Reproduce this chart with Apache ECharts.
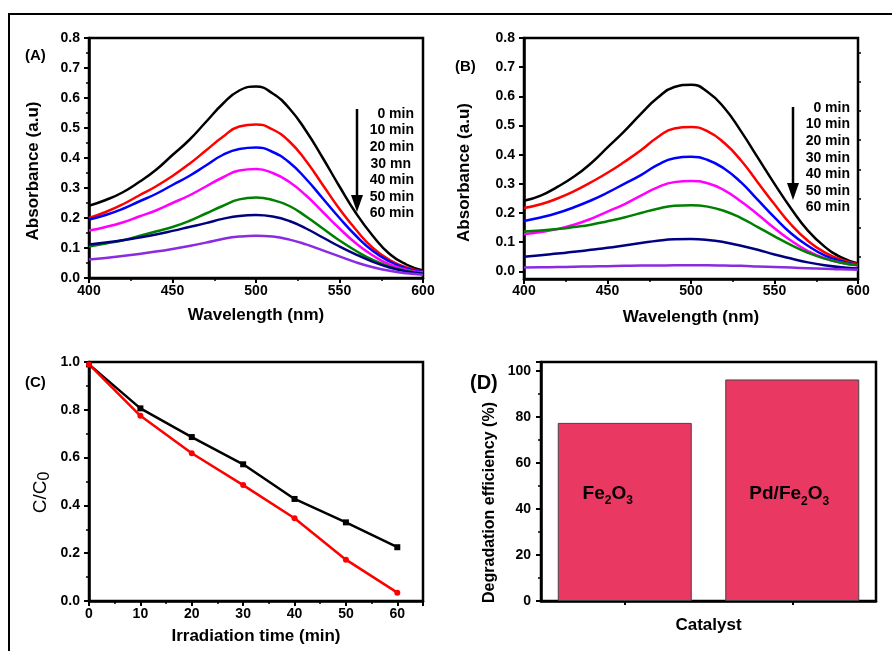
<!DOCTYPE html>
<html>
<head>
<meta charset="utf-8">
<script src="https://cdn.jsdelivr.net/npm/echarts@6/dist/echarts.min.js"></script>
<style>
  html, body { margin: 0; padding: 0; background: #fff; }
  #chart { width: 892px; height: 651px; }
</style>
</head>
<body>
<div id="chart"></div>
<script>
  // wavelength grid (nm)
  const wavelength = [400, 410, 420, 430, 440, 450, 460, 470, 480, 490, 500,
    510, 520, 530, 540, 550, 560, 570, 580, 590, 600];

  // (A) Fe2O3 spectra
  const absA_0 = [0.241, 0.26, 0.285, 0.32, 0.36, 0.41, 0.46, 0.52, 0.58, 0.625, 0.638,
    0.615, 0.565, 0.49, 0.40, 0.305, 0.215, 0.14, 0.08, 0.045, 0.025];
  const absA_10 = [0.20, 0.22, 0.245, 0.275, 0.305, 0.34, 0.38, 0.425, 0.47, 0.505, 0.512,
    0.495, 0.455, 0.39, 0.31, 0.23, 0.16, 0.10, 0.06, 0.035, 0.022];
  const absA_20 = [0.195, 0.21, 0.23, 0.255, 0.28, 0.31, 0.34, 0.375, 0.41, 0.43, 0.435,
    0.42, 0.385, 0.33, 0.265, 0.20, 0.14, 0.09, 0.055, 0.032, 0.02];
  const absA_30 = [0.158, 0.17, 0.185, 0.205, 0.225, 0.25, 0.275, 0.305, 0.335, 0.358, 0.363,
    0.35, 0.32, 0.275, 0.22, 0.165, 0.115, 0.075, 0.045, 0.028, 0.018];
  const absA_40 = [0.105, 0.115, 0.125, 0.14, 0.155, 0.17, 0.19, 0.215, 0.24, 0.262, 0.268,
    0.26, 0.24, 0.205, 0.165, 0.125, 0.09, 0.06, 0.038, 0.024, 0.015];
  const absA_50 = [0.112, 0.118, 0.126, 0.135, 0.145, 0.157, 0.17, 0.183, 0.197, 0.207, 0.21,
    0.205, 0.19, 0.165, 0.135, 0.105, 0.078, 0.054, 0.035, 0.022, 0.014];
  const absA_60 = [0.062, 0.067, 0.073, 0.08, 0.088, 0.097, 0.107, 0.118, 0.13, 0.138, 0.141,
    0.138, 0.128, 0.112, 0.092, 0.072, 0.052, 0.036, 0.024, 0.016, 0.011];

  // (B) Pd/Fe2O3 spectra
  const absB_0 = [0.242, 0.26, 0.29, 0.325, 0.37, 0.425, 0.48, 0.54, 0.595, 0.632, 0.64,
    0.615, 0.56, 0.48, 0.39, 0.30, 0.215, 0.14, 0.085, 0.048, 0.027];
  const absB_10 = [0.217, 0.23, 0.25, 0.275, 0.305, 0.338, 0.375, 0.415, 0.46, 0.49, 0.495,
    0.48, 0.44, 0.38, 0.305, 0.23, 0.16, 0.105, 0.065, 0.04, 0.025];
  const absB_20 = [0.173, 0.185, 0.2, 0.22, 0.243, 0.27, 0.3, 0.33, 0.365, 0.388, 0.393,
    0.382, 0.352, 0.305, 0.245, 0.185, 0.13, 0.088, 0.055, 0.035, 0.022];
  const absB_30 = [0.128, 0.135, 0.145, 0.16, 0.18, 0.205, 0.23, 0.26, 0.288, 0.306, 0.31,
    0.302, 0.278, 0.24, 0.195, 0.148, 0.105, 0.07, 0.045, 0.03, 0.02];
  const absB_40 = [0.137, 0.14, 0.145, 0.152, 0.16, 0.172, 0.185, 0.2, 0.215, 0.225, 0.227,
    0.222, 0.207, 0.183, 0.152, 0.12, 0.09, 0.064, 0.044, 0.03, 0.022];
  const absB_50 = [0.05, 0.055, 0.061, 0.067, 0.074, 0.081, 0.089, 0.097, 0.105, 0.11, 0.111,
    0.108, 0.1, 0.088, 0.074, 0.058, 0.044, 0.031, 0.021, 0.014, 0.01];
  const absB_60 = [0.013, 0.014, 0.015, 0.016, 0.017, 0.018, 0.019, 0.02, 0.02, 0.021, 0.021,
    0.021, 0.02, 0.019, 0.017, 0.015, 0.013, 0.011, 0.009, 0.007, 0.006];

  // (C) kinetics
  const timeMin = [0, 10, 20, 30, 40, 50, 60];
  const ratioFe2O3 = [0.99, 0.806, 0.686, 0.572, 0.427, 0.329, 0.225];
  const ratioPdFe2O3 = [0.99, 0.775, 0.618, 0.485, 0.346, 0.173, 0.035];

  // (D) efficiency
  const catalysts = ['Fe2O3', 'Pd/Fe2O3'];
  const efficiency = [77.5, 96.4];

  const legendA = ['0 min', '10 min', '20 min', '30 mn', '40 min', '50 min', '60 min'];
  const legendB = ['0 min', '10 min', '20 min', '30 min', '40 min', '50 min', '60 min'];
  const curveColors = ['#000000', '#ff0000', '#0000ff', '#ff00ff', '#008000', '#000080', '#8a2be2'];

  const FONT = '"Liberation Sans", Arial, sans-serif';
  const tickText = { color: '#000', fontFamily: FONT, fontWeight: 'bold', fontSize: 14 };
  const nameText = { color: '#000', fontFamily: FONT, fontWeight: 'bold', fontSize: 17 };

  const pairs = (xs, ys) => xs.map((x, i) => [x, ys[i]]);

  function lineSeries(ys, color, xi) {
    return {
      type: 'line',
      xAxisIndex: xi,
      yAxisIndex: xi,
      data: pairs(wavelength, ys),
      smooth: 0.5,
      showSymbol: false,
      lineStyle: { color: color, width: 2.5 },
      z: 3
    };
  }

  const frameAxis = {
    axisLine: { show: true, onZero: false, lineStyle: { color: '#000', width: 2.5 } },
    axisTick: { show: true, inside: false, length: 5, lineStyle: { color: '#000', width: 2 } },
    minorTick: { show: true, splitNumber: 2, length: 3, lineStyle: { color: '#000', width: 1.5 } },
    splitLine: { show: false }
  };

  function legendTexts(labels, right, top) {
    return labels.map((t, i) => ({
      type: 'text',
      x: t === '30 mn' ? right - 3 : right,
      y: top + i * 16.6,
      style: { text: t, align: 'right', verticalAlign: 'middle', fill: '#000', font: 'bold 14px ' + FONT }
    }));
  }

  function arrow(x, y1, y2, headTop) {
    return [
      { type: 'line', shape: { x1: x, y1: y1, x2: x, y2: headTop }, style: { stroke: '#000', lineWidth: 2.5 } },
      { type: 'polygon', shape: { points: [[x - 6, headTop], [x + 6, headTop], [x, y2]] }, style: { fill: '#000' } }
    ];
  }

  function letter(t, x, y, size) {
    return { type: 'text', x: x, y: y, style: { text: t, fill: '#000', font: 'bold ' + size + 'px ' + FONT, verticalAlign: 'middle' } };
  }

  // subscripts: pushed down with top padding on the small token
  const subRich = {
    n: { fontFamily: FONT, fontWeight: 'bold', fontSize: 19, lineHeight: 20, color: '#000' },
    s: { fontFamily: FONT, fontWeight: 'bold', fontSize: 12, lineHeight: 12, padding: [14, 0, 0, 0], color: '#000' }
  };
  const barLabelText = ['{n|Fe}{s|2}{n|O}{s|3}', '{n|Pd/Fe}{s|2}{n|O}{s|3}'];
  const barLabelOffset = [[-17, -18], [-3, 4]];

  const chart = echarts.init(document.getElementById('chart'), null, { renderer: 'canvas' });

  const option = {
    backgroundColor: '#fff',
    animation: false,
    grid: [
      { left: 89, top: 38, width: 334, height: 240, show: true, borderColor: '#000', borderWidth: 2.5 },
      { left: 524, top: 38, width: 334, height: 241, show: true, borderColor: '#000', borderWidth: 2.5 },
      { left: 89, top: 362, width: 334, height: 239, show: true, borderColor: '#000', borderWidth: 2.5 },
      { left: 541, top: 362, width: 335, height: 239, show: true, borderColor: '#000', borderWidth: 2.5 }
    ],
    xAxis: [
      Object.assign({}, frameAxis, {
        gridIndex: 0, type: 'value', min: 400, max: 600, interval: 50,
        name: 'Wavelength (nm)', nameLocation: 'middle', nameGap: 29, nameTextStyle: nameText,
        axisLabel: Object.assign({ margin: 6 }, tickText)
      }),
      Object.assign({}, frameAxis, {
        gridIndex: 1, type: 'value', min: 400, max: 600, interval: 50,
        name: 'Wavelength (nm)', nameLocation: 'middle', nameGap: 30, nameTextStyle: nameText,
        axisLabel: Object.assign({ margin: 5 }, tickText)
      }),
      Object.assign({}, frameAxis, {
        gridIndex: 2, type: 'value', min: 0, max: 65, interval: 10,
        name: 'Irradiation time (min)', nameLocation: 'middle', nameGap: 27, nameTextStyle: nameText,
        axisLabel: Object.assign({ margin: 6, showMaxLabel: false }, tickText)
      }),
      {
        gridIndex: 3, type: 'category', data: catalysts,
        name: 'Catalyst', nameLocation: 'middle', nameGap: 16, nameTextStyle: nameText,
        axisLine: { show: true, onZero: false, lineStyle: { color: '#000', width: 2.5 } },
        axisTick: { show: true, alignWithLabel: true, length: 4, lineStyle: { color: '#000', width: 2 } },
        axisLabel: { show: false },
        splitLine: { show: false }
      }
    ],
    yAxis: [
      Object.assign({}, frameAxis, {
        gridIndex: 0, type: 'value', min: 0, max: 0.8, interval: 0.1,
        name: 'Absorbance (a.u)', nameLocation: 'middle', nameGap: 47,
        nameTextStyle: Object.assign({ padding: [0, 26, 0, 0] }, nameText),
        axisLabel: Object.assign({ margin: 9, formatter: v => v.toFixed(1) }, tickText)
      }),
      {
        gridIndex: 1, type: 'value', min: -0.026, max: 0.8,
        name: 'Absorbance (a.u)', nameLocation: 'middle', nameGap: 51,
        nameTextStyle: Object.assign({ padding: [0, 28, 0, 0] }, nameText),
        axisLine: { show: true, onZero: false, lineStyle: { color: '#000', width: 2.5 } },
        axisTick: { show: true, length: 5, customValues: [0, 0.1, 0.2, 0.3, 0.4, 0.5, 0.6, 0.7, 0.8], lineStyle: { color: '#000', width: 2 } },
        axisLabel: Object.assign({ margin: 9, customValues: [0, 0.1, 0.2, 0.3, 0.4, 0.5, 0.6, 0.7, 0.8], formatter: v => v.toFixed(1) }, tickText),
        splitLine: { show: false }
      },
      Object.assign({}, frameAxis, {
        gridIndex: 2, type: 'value', min: 0, max: 1, interval: 0.2,
        name: '{a|C/C}{b|0}', nameLocation: 'middle', nameGap: 38,
        nameTextStyle: {
          padding: [0, 22, 0, 0],
          rich: {
            a: { fontFamily: FONT, fontSize: 19, color: '#000', lineHeight: 20 },
            b: { fontFamily: FONT, fontSize: 16, color: '#000', lineHeight: 16, padding: [8, 0, 0, 0] }
          }
        },
        axisLabel: Object.assign({ margin: 9, formatter: v => v.toFixed(1) }, tickText)
      }),
      Object.assign({}, frameAxis, {
        gridIndex: 3, type: 'value', min: 0, max: 104, interval: 20,
        name: 'Degradation efficiency (%)', nameLocation: 'middle', nameGap: 43,
        nameTextStyle: Object.assign({}, nameText, { fontSize: 16, padding: [0, 42, 0, 0] }),
        axisLabel: Object.assign({ margin: 10, showMaxLabel: false }, tickText)
      }),
      {
        // minor ticks for panel B
        gridIndex: 1, type: 'value', min: -0.026, max: 0.8,
        axisLine: { show: false },
        axisTick: { show: true, length: 3, customValues: [0.05, 0.15, 0.25, 0.35, 0.45, 0.55, 0.65, 0.75], lineStyle: { color: '#000', width: 1.5 } },
        axisLabel: { show: false },
        splitLine: { show: false }
      }
    ],
    series: [
      ...[absA_0, absA_10, absA_20, absA_30, absA_40, absA_50, absA_60].map((d, i) => lineSeries(d, curveColors[i], 0)),
      ...[absB_0, absB_10, absB_20, absB_30, absB_40, absB_50, absB_60].map((d, i) => lineSeries(d, curveColors[i], 1)),
      {
        type: 'line', xAxisIndex: 2, yAxisIndex: 2,
        data: pairs(timeMin, ratioFe2O3),
        symbol: 'rect', symbolSize: 6,
        itemStyle: { color: '#000' },
        lineStyle: { color: '#000', width: 2.5 }
      },
      {
        type: 'line', xAxisIndex: 2, yAxisIndex: 2,
        data: pairs(timeMin, ratioPdFe2O3),
        symbol: 'circle', symbolSize: 6,
        itemStyle: { color: '#ff0000' },
        lineStyle: { color: '#ff0000', width: 2.5 }
      },
      {
        type: 'bar', xAxisIndex: 3, yAxisIndex: 3,
        barWidth: '80%',
        data: efficiency.map((v, i) => ({
          value: v,
          label: { formatter: barLabelText[i], offset: barLabelOffset[i] }
        })),
        itemStyle: { color: '#e93862', borderColor: '#444', borderWidth: 1 },
        label: { show: true, position: 'inside', rich: subRich }
      }
    ],
    graphic: [
      { type: 'rect', shape: { x: 9, y: 14, width: 900, height: 700 }, style: { fill: 'none', stroke: '#000', lineWidth: 2 }, silent: true },
      letter('(A)', 25, 56, 15),
      letter('(B)', 455, 67, 15),
      letter('(C)', 25, 383, 15),
      letter('(D)', 470, 383, 20),
      ...legendTexts(legendA, 414, 114),
      ...legendTexts(legendB, 850, 108),
      ...arrow(357, 109, 212, 195),
      ...arrow(793, 107, 200, 183)
    ]
  };

  chart.setOption(option);
</script>
</body>
</html>
